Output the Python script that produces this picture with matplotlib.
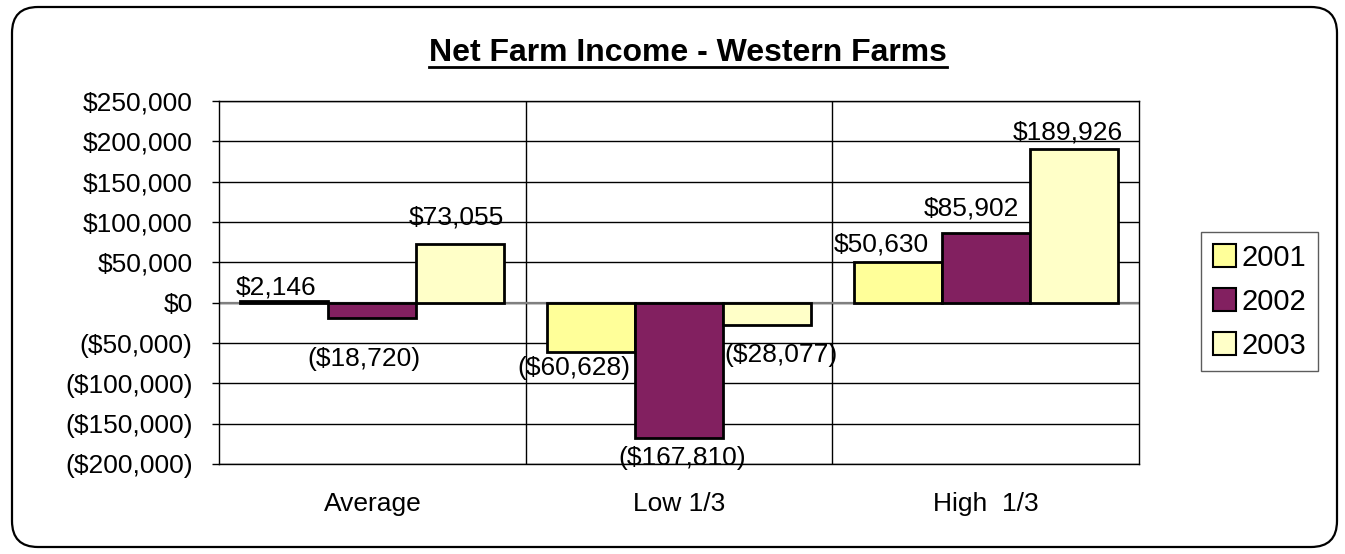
import matplotlib
matplotlib.use("Agg")
import matplotlib.pyplot as plt
from matplotlib.patches import FancyBboxPatch, Patch
from matplotlib.lines import Line2D
from matplotlib.transforms import IdentityTransform
import numpy as np

plt.rcParams['font.family'] = ['Liberation Sans', 'DejaVu Sans']

categories = ["Average", "Low 1/3", "High  1/3"]
series_names = ["2001", "2002", "2003"]
values_2001 = [2146, -60628, 50630]
values_2002 = [-18720, -167810, 85902]
values_2003 = [73055, -28077, 189926]
yticks = [-200000, -150000, -100000, -50000, 0, 50000, 100000, 150000, 200000, 250000]
colors = ["#FFFF99", "#822060", "#FFFFC8"]

# label placement nudges (points), [category][series], mimicking the original's overlap avoidance
label_dx = [[-6, -6, -3], [-12, 2, 10], [-12, -10, -4]]
label_gap = [[1, 21, 10], [3, 6, 13], [3.5, 9, 3.5]]

def money(v):
    s = "${:,.0f}".format(abs(v))
    return "(" + s + ")" if v < 0 else s

W, H = 1345, 554
fig = plt.figure(figsize=(W / 100, H / 100), dpi=100)
fig.patch.set_facecolor("white")

# rounded outer border
border = FancyBboxPatch((12, 7), 1325, 540, boxstyle="round,pad=0,rounding_size=26",
                        transform=IdentityTransform(), facecolor="none",
                        edgecolor="black", linewidth=1.6, zorder=0)
fig.patches.append(border)

ax = fig.add_axes([219 / W, 1 - 464 / H, (1139 - 219) / W, (464 - 101) / H])
ax.set_xlim(-0.5, 2.5)
ax.set_ylim(-200000, 250000)

x = np.arange(len(categories))
w = 0.287
all_series = [values_2001, values_2002, values_2003]
for i, (vals, col) in enumerate(zip(all_series, colors)):
    xs = x + (i - 1) * w
    ax.bar(xs, vals, width=w, color=col, edgecolor="black", linewidth=2, zorder=3)
    for j, (xi, v) in enumerate(zip(xs, vals)):
        dx = label_dx[j][i]
        g = label_gap[j][i]
        if v >= 0:
            ax.annotate(money(v), (xi, v), xytext=(dx, g), textcoords="offset points",
                        ha="center", va="bottom", fontsize=19, zorder=5)
        else:
            ax.annotate(money(v), (xi, v), xytext=(dx, -g), textcoords="offset points",
                        ha="center", va="top", fontsize=19, zorder=5)

ax.set_yticks(yticks)
ax.set_yticklabels([money(v) for v in yticks])
ax.yaxis.grid(True, color="black", linewidth=1, zorder=1)
for xv in [0.5, 1.5]:
    ax.axvline(xv, color="black", linewidth=1, zorder=1)
ax.axhline(0, color="#808080", linewidth=1.6, zorder=2)
ax.set_xticks(x)
ax.set_xticklabels(categories)
ax.tick_params(axis="x", length=0, pad=20, labelsize=19)
ax.tick_params(axis="y", length=5, width=1, pad=14, labelsize=19, direction="out")
for s in ax.spines.values():
    s.set_linewidth(1)
    s.set_color("black")

# title with underline
title = fig.text(688 / W, 1 - 53 / H, "Net Farm Income - Western Farms", ha="center",
                 va="center", fontsize=23, fontweight="bold")
fig.canvas.draw()
bb = title.get_window_extent()
uy = bb.y0 + 1
fig.add_artist(Line2D([bb.x0, bb.x1], [uy, uy], transform=IdentityTransform(),
                      color="black", linewidth=2))

handles = [Patch(facecolor=c, edgecolor="black", linewidth=1.5) for c in colors]
leg = fig.legend(handles, series_names, loc="upper left",
                 bbox_to_anchor=(1201 / W, 1 - 232 / H), fontsize=21,
                 frameon=True, fancybox=False, edgecolor="#333333",
                 handlelength=0.8, handleheight=0.8, handletextpad=0.2,
                 labelspacing=0.55, borderpad=0.4, borderaxespad=0)
leg.get_frame().set_linewidth(1)

fig.savefig("out.png", dpi=100)
